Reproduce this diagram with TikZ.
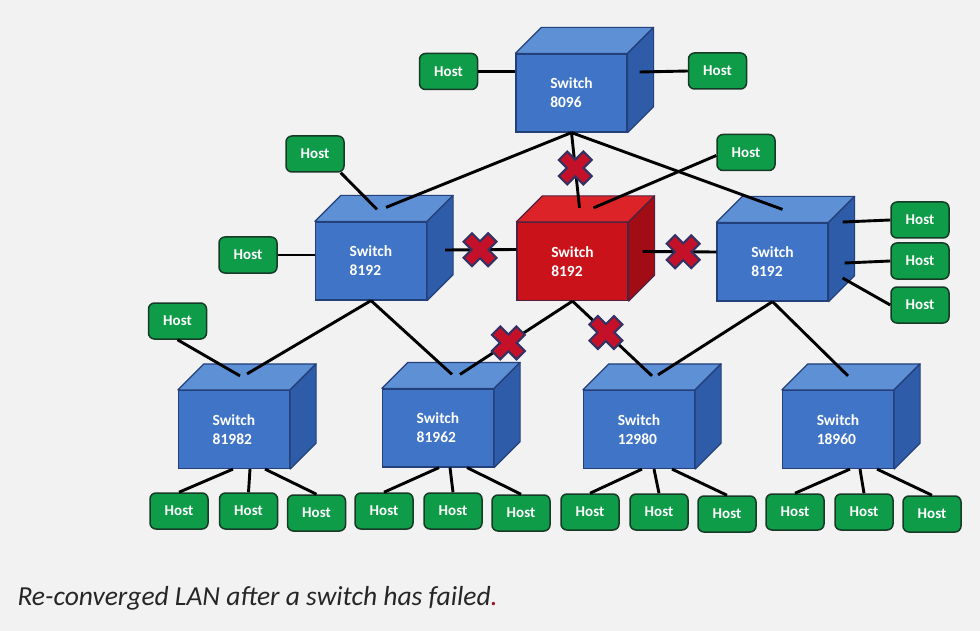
\documentclass[tikz,border=0pt]{standalone}
\usepackage{fontspec}
\setmainfont{Carlito}
\usepackage{xcolor}
\usepackage{tikz}
\usetikzlibrary{calc, positioning}

\definecolor{pagebg}{RGB}{242,242,242}
\definecolor{swfront}{RGB}{63,116,198}
\definecolor{swtop}{RGB}{94,144,214}
\definecolor{swside}{RGB}{46,92,168}
\definecolor{swedge}{RGB}{35,64,122}
\definecolor{rdfront}{RGB}{202,18,26}
\definecolor{rdtop}{RGB}{220,36,40}
\definecolor{rdside}{RGB}{162,12,20}
\definecolor{rdedge}{RGB}{78,34,64}
\definecolor{hostgreen}{RGB}{14,156,72}
\definecolor{hostedge}{RGB}{22,58,38}
\definecolor{xred}{RGB}{196,16,40}
\definecolor{xedge}{RGB}{52,50,100}

\tikzset{
  switchbox/.style={rectangle, minimum width=111pt, minimum height=78pt,
    fill=swfront, draw=swedge, line width=1.2pt, text=white, align=left,
    font=\bfseries\fontsize{15.5}{19}\selectfont},
  failbox/.style={switchbox, fill=rdfront, draw=rdedge},
  hostbox/.style={rectangle, rounded corners=6pt, fill=hostgreen, draw=hostedge,
    line width=1.5pt, minimum width=58pt, minimum height=36pt, text=white,
    font=\bfseries\fontsize{15}{16}\selectfont},
  wire/.style={line width=2.9pt, black},
  failx/.style={minimum size=38pt, inner sep=0pt, path picture={
    \draw[xedge, line width=14pt]
      ([shift={(-13pt,-13pt)}]path picture bounding box.center) -- ([shift={(13pt,13pt)}]path picture bounding box.center)
      ([shift={(-13pt,13pt)}]path picture bounding box.center) -- ([shift={(13pt,-13pt)}]path picture bounding box.center);
    \draw[xred, line width=9.5pt]
      ([shift={(-11.4pt,-11.4pt)}]path picture bounding box.center) -- ([shift={(11.4pt,11.4pt)}]path picture bounding box.center)
      ([shift={(-11.4pt,11.4pt)}]path picture bounding box.center) -- ([shift={(11.4pt,-11.4pt)}]path picture bounding box.center);
  }},
  caption/.style={font=\itshape\fontsize{27.5}{30}\selectfont, text=black!85}
}

\begin{document}
\begin{tikzpicture}[x=1pt, y=-1pt]
  \useasboundingbox (0,0) rectangle (980,631);
  \fill[pagebg] (0,0) rectangle (980,631);

  % switches (front faces)
  \node[switchbox] (s0)  at (571.5,93)  {Switch\\8096};
  \node[switchbox] (sL)  at (371,261)   {Switch\\8192};
  \node[failbox]   (sR)  at (572.5,261.5) {Switch\\8192};
  \node[switchbox] (sRt) at (772.5,262) {Switch\\8192};
  \node[switchbox] (b1)  at (234,429.5) {Switch\\81982};
  \node[switchbox] (b2)  at (438,428)   {Switch\\81962};
  \node[switchbox] (b3)  at (639,429.5) {Switch\\12980};
  \node[switchbox] (b4)  at (838,429.5) {Switch\\18960};

  % top and side faces
  \foreach \n/\t/\s/\e in {s0/swtop/swside/swedge, sL/swtop/swside/swedge,
      sR/rdtop/rdside/rdedge, sRt/swtop/swside/swedge, b1/swtop/swside/swedge,
      b2/swtop/swside/swedge, b3/swtop/swside/swedge, b4/swtop/swside/swedge} {
    \filldraw[fill=\t, draw=\e, line width=1.2pt, line join=round]
      (\n.north west) -- ++(26,-26) -- ($(\n.north east)+(26,-26)$) -- (\n.north east) -- cycle;
    \filldraw[fill=\s, draw=\e, line width=1.2pt, line join=round]
      (\n.north east) -- ++(26,-26) -- ($(\n.south east)+(26,-26)$) -- (\n.south east) -- cycle;
  }

  % hosts
  \node[hostbox] (hT1) at (448.5,71.5) {Host};
  \node[hostbox] (hT2) at (717.5,71)   {Host};
  \node[hostbox] (hM1) at (315,154)    {Host};
  \node[hostbox] (hM2) at (746,152.5)  {Host};
  \node[hostbox] (hM3) at (248,255)    {Host};
  \node[hostbox] (hR1) at (920,220)    {Host};
  \node[hostbox] (hR2) at (920,261)    {Host};
  \node[hostbox] (hR3) at (920,305)    {Host};
  \node[hostbox] (hL)  at (177.5,321)  {Host};
  \foreach \n/\x/\y in {1-1/179/511, 1-2/248.5/511, 1-3/316.5/513,
      2-1/384/511, 2-2/453/511, 2-3/521/513, 3-1/590/512, 3-2/659/512,
      3-3/727/514, 4-1/795/512, 4-2/864/512, 4-3/932/514}
    \node[hostbox] (h\n) at (\x,\y) {Host};

  % links of the root switch
  \draw[wire] (hT1.east) -- (hT1.east -| s0.west);
  \draw[wire] ($(s0.east)+(12,-21)$) -- (hT2.west);
  \draw[wire] (s0.south) -- ($(sL.north)+(15,-14)$);
  \draw[wire] (s0.south) -- ($(sR.north)+(7,-14)$) node[failx, pos=.47] (x1) {};
  \draw[wire] (s0.south) -- ($(sRt.north)+(10,-13)$);

  % middle row
  \draw[wire] ($(hM1.south east)+(-4,0)$) -- ($(sL.north)+(6,-12)$);
  \draw[wire] ($(hM2.west)+(0,3)$) -- ($(sR.north)+(21,-14)$);
  \draw[wire] (hM3.east) -- (hM3.east -| sL.west);
  \draw[wire] ($(sL.east)+(18,-11)$) -- ($(sR.west)+(0,-12)$) node[failx, pos=.49] (x2) {};
  \draw[wire] ($(sR.east)+(14,-10)$) -- ($(sRt.west)+(0,-10)$) node[failx, pos=.55] (x3) {};
  \draw[wire] ($(sRt.east)+(14,-40)$) -- (hR1.west);
  \draw[wire] ($(sRt.east)+(16,1)$) -- (hR2.west);
  \draw[wire] ($(sRt.east)+(14,16)$) -- (hR3.west);

  % down to the access switches
  \draw[wire] (hL.south) -- ($(b1.north)+(6,-14)$);
  \draw[wire] (sL.south) -- ($(b1.north)+(13,-16)$);
  \draw[wire] (sL.south) -- ($(b2.north)+(14,-14)$);
  \draw[wire] (sR.south) -- ($(b2.north)+(22,-14)$) node[failx, pos=.57] (x4) {};
  \draw[wire] (sR.south) -- ($(b3.north)+(13,-14)$) node[failx, pos=.42] (x5) {};
  \draw[wire] (sRt.south) -- ($(b3.north)+(19,-15)$);
  \draw[wire] (sRt.south) -- ($(b4.north)+(10,-14)$);

  % access switches to hosts
  \foreach \s/\a/\b/\c in {1/-1/16/31, 2/1/12/29, 3/3/15/33, 4/12/22/39} {
    \draw[wire] ($(b\s.south)+(\a,0)$) -- (h\s-1.north);
    \draw[wire] ($(b\s.south)+(\b,0)$) -- (h\s-2.north);
    \draw[wire] ($(b\s.south)+(\c,0)$) -- (h\s-3.north);
  }

  \node[caption, anchor=base west] (cap) at (14,605)
    {Re-converged LAN after a switch has failed\textcolor{xred!80!black}{.}};
\end{tikzpicture}
\end{document}
